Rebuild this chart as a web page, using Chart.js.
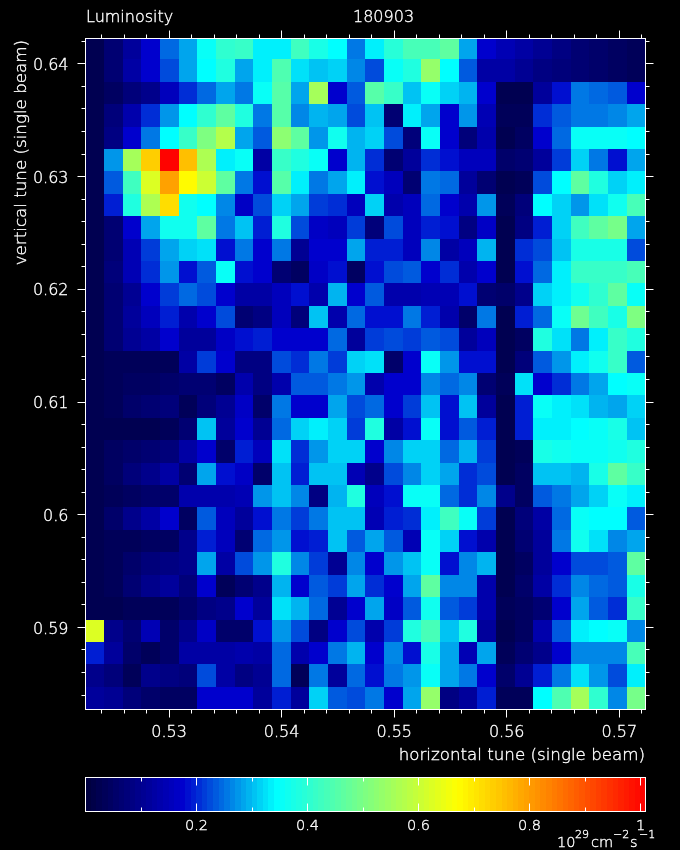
<!DOCTYPE html>
<html>
<head>
<meta charset="utf-8">
<title>Luminosity 180903</title>
<script src="https://cdn.jsdelivr.net/npm/chart.js@4"></script>
<style>
    html, body { margin: 0; padding: 0; background: #000; }
    #wrap { position: relative; width: 680px; height: 850px; background: #000; overflow: hidden; }
    canvas { position: absolute; left: 0; display: block; }
    #mapChart { top: 0; }
    #barChart { top: 770px; }
</style>
</head>
<body>
<div id="wrap">
    <canvas id="mapChart" width="680" height="770"></canvas>
    <canvas id="barChart" width="680" height="80"></canvas>
</div>
<script>
// horizontal tune of each column, vertical tune of each row (top row first)
const xTunes = [0.523400, 0.525059, 0.526717, 0.528376, 0.530035, 0.531694, 0.533352, 0.535011, 0.536670, 0.538329,
    0.539987, 0.541646, 0.543305, 0.544964, 0.546622, 0.548281, 0.549940, 0.551599, 0.553257, 0.554916,
    0.556575, 0.558234, 0.559892, 0.561551, 0.563210, 0.564869, 0.566527, 0.568186, 0.569845, 0.571504];
const yTunes = [0.641376, 0.639388, 0.637400, 0.635412, 0.633424, 0.631436, 0.629448, 0.627460, 0.625472, 0.623484,
    0.621497, 0.619509, 0.617521, 0.615533, 0.613545, 0.611557, 0.609569, 0.607581, 0.605593, 0.603605,
    0.601617, 0.599630, 0.597642, 0.595654, 0.593666, 0.591678, 0.589690, 0.587702, 0.585714, 0.583726];

// luminosity, 10^29 cm-2 s-1, one list per row
const lumi = [
    [.02,.06,.11,.17,.24,.29,.35,.40,.41,.33,.33,.42,.37,.34,.25,.33,.39,.43,.43,.46,.28,.17,.14,.12,.10,.08,.06,.05,.04,.03],
    [.02,.06,.12,.17,.225,.28,.345,.385,.285,.33,.44,.32,.305,.31,.26,.225,.35,.385,.53,.34,.235,.125,.12,.10,.08,.07,.06,.05,.04,.03],
    [.02,.045,.07,.09,.15,.20,.245,.285,.255,.35,.45,.28,.55,.175,.23,.45,.41,.305,.35,.31,.295,.17,.025,.025,.11,.18,.25,.24,.23,.17],
    [.02,.07,.13,.20,.27,.345,.40,.47,.38,.25,.45,.26,.295,.285,.225,.305,.06,.33,.29,.17,.27,.14,.03,.03,.20,.23,.25,.255,.26,.29],
    [.02,.08,.17,.25,.34,.41,.50,.58,.28,.235,.52,.46,.27,.36,.295,.315,.22,.07,.35,.17,.07,.135,.02,.045,.17,.245,.35,.35,.35,.345],
    [.02,.27,.55,.73,1.0,.75,.57,.335,.35,.12,.41,.385,.35,.17,.295,.20,.06,.11,.20,.18,.155,.155,.05,.06,.11,.21,.31,.25,.185,.28],
    [.02,.23,.42,.62,.79,.67,.60,.47,.25,.18,.45,.335,.255,.29,.33,.185,.15,.06,.25,.24,.11,.065,.02,.03,.22,.34,.47,.385,.31,.335],
    [.02,.19,.38,.57,.71,.365,.34,.26,.165,.225,.31,.285,.21,.205,.155,.31,.13,.155,.24,.175,.13,.275,.03,.075,.345,.31,.27,.32,.36,.43],
    [.02,.065,.175,.28,.36,.365,.47,.25,.30,.19,.38,.22,.165,.155,.21,.07,.225,.155,.19,.185,.085,.16,.025,.08,.195,.315,.42,.47,.49,.28],
    [.02,.06,.14,.21,.28,.31,.325,.18,.255,.17,.25,.10,.17,.175,.285,.19,.19,.15,.26,.12,.15,.295,.025,.20,.225,.305,.375,.375,.375,.225],
    [.02,.07,.14,.20,.27,.185,.23,.35,.18,.175,.06,.04,.16,.18,.045,.18,.22,.235,.17,.20,.135,.175,.025,.18,.24,.33,.41,.41,.41,.43],
    [.02,.06,.10,.17,.21,.24,.225,.175,.125,.125,.15,.185,.135,.295,.17,.23,.13,.13,.14,.14,.185,.06,.05,.09,.31,.33,.36,.40,.47,.355],
    [.02,.06,.11,.155,.195,.13,.175,.22,.065,.085,.155,.07,.305,.135,.24,.18,.18,.255,.19,.135,.055,.255,.02,.195,.24,.35,.48,.42,.375,.50],
    [.02,.06,.10,.125,.175,.11,.11,.165,.18,.19,.175,.17,.17,.24,.115,.21,.225,.215,.235,.225,.115,.15,.02,.045,.385,.32,.25,.33,.41,.38],
    [.02,.03,.03,.03,.03,.125,.21,.175,.08,.08,.225,.205,.25,.21,.31,.32,.05,.17,.35,.275,.185,.18,.02,.075,.23,.275,.33,.365,.41,.23],
    [.02,.03,.04,.045,.05,.065,.06,.04,.135,.085,.13,.235,.23,.25,.275,.13,.175,.175,.26,.24,.26,.06,.035,.325,.175,.20,.25,.29,.345,.355],
    [.02,.03,.05,.06,.07,.03,.07,.10,.165,.05,.255,.17,.17,.285,.22,.24,.175,.215,.305,.18,.305,.11,.02,.195,.35,.33,.32,.295,.28,.315],
    [.02,.025,.025,.025,.03,.06,.305,.115,.175,.10,.245,.31,.33,.315,.21,.385,.125,.18,.35,.185,.235,.19,.02,.195,.33,.335,.345,.355,.375,.30],
    [.02,.04,.05,.06,.07,.12,.17,.05,.19,.155,.325,.205,.275,.315,.31,.175,.26,.31,.31,.24,.295,.215,.025,.03,.375,.365,.355,.35,.36,.385],
    [.02,.04,.07,.09,.12,.06,.285,.18,.16,.05,.30,.195,.30,.30,.14,.09,.225,.26,.315,.285,.20,.225,.02,.04,.305,.30,.295,.375,.46,.41],
    [.02,.03,.04,.05,.05,.13,.13,.13,.14,.275,.30,.26,.085,.295,.38,.15,.185,.35,.35,.24,.205,.26,.09,.04,.235,.255,.285,.315,.35,.33],
    [.02,.05,.09,.12,.17,.04,.235,.15,.11,.18,.25,.21,.25,.30,.30,.14,.19,.205,.335,.42,.35,.21,.025,.07,.12,.245,.355,.345,.34,.235],
    [.02,.03,.035,.04,.04,.09,.19,.155,.06,.245,.27,.18,.19,.30,.23,.28,.23,.145,.35,.31,.18,.13,.02,.06,.11,.25,.365,.325,.26,.28],
    [.02,.03,.05,.07,.08,.09,.28,.125,.225,.27,.38,.265,.21,.10,.26,.175,.275,.30,.355,.18,.26,.295,.02,.04,.11,.17,.225,.225,.23,.46],
    [.02,.035,.06,.09,.11,.07,.17,.035,.06,.09,.295,.175,.235,.21,.285,.205,.17,.285,.46,.265,.26,.13,.025,.05,.12,.20,.26,.245,.235,.375],
    [.025,.025,.03,.03,.03,.05,.08,.09,.175,.115,.325,.295,.245,.10,.175,.28,.16,.235,.36,.23,.215,.135,.03,.04,.06,.175,.28,.235,.205,.41],
    [.62,.09,.06,.14,.05,.09,.16,.05,.05,.18,.27,.22,.08,.17,.225,.135,.21,.385,.43,.30,.38,.11,.025,.04,.135,.235,.33,.34,.35,.26],
    [.19,.11,.05,.035,.05,.12,.12,.12,.13,.12,.24,.135,.175,.25,.295,.175,.26,.18,.375,.28,.145,.29,.03,.06,.09,.175,.26,.26,.26,.43],
    [.09,.07,.035,.09,.08,.07,.22,.12,.08,.10,.24,.03,.255,.11,.245,.18,.25,.27,.35,.285,.255,.175,.05,.10,.195,.255,.325,.275,.225,.335],
    [.11,.10,.07,.05,.045,.04,.175,.17,.17,.11,.195,.11,.315,.23,.225,.25,.175,.28,.53,.08,.11,.19,.035,.035,.345,.44,.55,.40,.26,.49]
];

const xTicks = [0.53, 0.54, 0.55, 0.56, 0.57];
const xMinorTicks = [0.524, 0.526, 0.528, 0.532, 0.534, 0.536, 0.538, 0.542, 0.544, 0.546, 0.548,
    0.552, 0.554, 0.556, 0.558, 0.562, 0.564, 0.566, 0.568, 0.572];
const yTicks = [0.64, 0.63, 0.62, 0.61, 0.6, 0.59];
const yMinorTicks = [0.642, 0.638, 0.636, 0.634, 0.632, 0.628, 0.626, 0.624, 0.622, 0.618, 0.616, 0.614, 0.612,
    0.608, 0.606, 0.604, 0.602, 0.598, 0.596, 0.594, 0.592, 0.588, 0.586, 0.584];
const barTicks = [0.2, 0.4, 0.6, 0.8, 1];
const barMinorTicks = [0.1, 0.3, 0.5, 0.7, 0.9];

const X_MIN = 0.52257, X_MAX = 0.57233, Y_MIN = 0.58272, Y_MAX = 0.64225;
const CELL_H = 0.0019879;   // row height in tune units
const BAR_MAX = 1.009;
const LEVEL = 0.01;         // the colour table has bands this wide

const FONT = '"DejaVu Sans", sans-serif';
const WHITE = '#ffffff';
const TEXT_STROKE = 0.35;   // extralight face needs a bit more ink to read as full white

// jet-like table used by the plot
const stops = [
    [0, 0, 0, 60],
    [0.175, 0, 0, 205],
    [0.345, 0, 255, 255],
    [0.67, 255, 255, 0],
    [1.009, 255, 0, 0]
];

function lumiColor(v) {
    const q = Math.min(Math.floor(v / LEVEL) * LEVEL + LEVEL / 2, BAR_MAX);
    for (let i = 1; i < stops.length; i++) {
        if (q <= stops[i][0]) {
            const a = stops[i - 1], b = stops[i];
            const t = (q - a[0]) / (b[0] - a[0]);
            const mix = k => Math.round(a[k] + (b[k] - a[k]) * t);
            return `rgb(${mix(1)},${mix(2)},${mix(3)})`;
        }
    }
    return 'rgb(255,0,0)';
}

// snap bars on whole pixels, the original has no soft cell edges
const snapBars = {
    id: 'snapBars',
    afterDatasetsUpdate(chart) {
        const snap = v => Math.floor(v + 0.3);
        chart.getDatasetMeta(0).data.forEach(el => {
            const l = snap(el.x - el.width / 2), r = snap(el.x + el.width / 2);
            el.x = (l + r) / 2;
            el.width = r - l;
            el.y = snap(el.y);
            el.base = snap(el.base);
            el.height = el.base - el.y;
        });
    }
};

function line(ctx, x1, y1, x2, y2) {
    ctx.beginPath();
    ctx.moveTo(x1, y1);
    ctx.lineTo(x2, y2);
    ctx.stroke();
}

function label(ctx, text, x, y, font) {
    ctx.font = font;
    ctx.fillText(text, x, y);
    ctx.lineWidth = TEXT_STROKE;
    ctx.strokeText(text, x, y);
}

const mapFrame = {
    id: 'mapFrame',
    afterDraw(chart) {
        const { ctx, chartArea: a, scales } = chart;
        const l = Math.floor(a.left) + 0.5, r = Math.floor(a.right) + 0.5;
        const t = Math.floor(a.top) + 0.5, b = Math.floor(a.bottom) + 0.5;
        ctx.save();
        ctx.strokeStyle = WHITE;
        ctx.lineWidth = 1;
        ctx.strokeRect(l, t, r - l, b - t);
        const xMarks = (vals, len) => vals.forEach(v => {
            const p = Math.floor(scales.x.getPixelForValue(v)) + 0.5;
            line(ctx, p, t, p, t - len);
            line(ctx, p, b, p, b + len);
        });
        const yMarks = (vals, len) => vals.forEach(v => {
            const p = Math.floor(scales.y.getPixelForValue(v)) + 0.5;
            line(ctx, l, p, l - len, p);
            line(ctx, r, p, r + len, p);
        });
        xMarks(xTicks, 8);
        xMarks(xMinorTicks, 4);
        yMarks(yTicks, 8);
        yMarks(yMinorTicks, 4);

        ctx.fillStyle = WHITE;
        ctx.textBaseline = 'alphabetic';
        ctx.textAlign = 'left';
        const font = '200 16px ' + FONT, axisFont = '200 16.7px ' + FONT;
        label(ctx, 'Luminosity', 86, 22, font);
        label(ctx, '180903', 353, 22, font);
        ctx.textAlign = 'right';
        label(ctx, 'horizontal tune (single beam)', 645, 760, axisFont);
        ctx.translate(26, 40);
        ctx.rotate(-Math.PI / 2);
        label(ctx, 'vertical tune (single beam)', 0, 0, axisFont);
        ctx.restore();
    }
};

const barFrame = {
    id: 'barFrame',
    afterDraw(chart) {
        const { ctx, chartArea: a, scales } = chart;
        const l = Math.floor(a.left) + 0.5, r = Math.floor(a.right) + 0.5;
        const t = Math.floor(a.top) + 0.5, b = Math.floor(a.bottom) + 0.5;
        ctx.save();
        ctx.strokeStyle = WHITE;
        ctx.lineWidth = 1;
        ctx.strokeRect(l, t, r - l, b - t);
        const marks = (vals, len) => vals.forEach(v => {
            const p = Math.floor(scales.x.getPixelForValue(v)) + 0.5;
            line(ctx, p, t, p, t + len);
            line(ctx, p, b, p, b - len);
        });
        marks(barTicks, 8);
        marks(barMinorTicks, 4);

        // unit with superscripts, baselines are relative to this canvas (top = 770)
        ctx.fillStyle = WHITE;
        ctx.textBaseline = 'alphabetic';
        ctx.textAlign = 'left';
        const big = '200 14.5px ' + FONT, small = '200 11px ' + FONT;
        [['10', 557, 77, big], ['29', 575, 68, small], ['cm', 591, 77, big],
         ['\u22122', 613, 68, small], ['s', 630, 77, big], ['\u22121', 639, 68, small]].forEach(p => {
            label(ctx, p[0], p[1], p[2], p[3]);
        });
        ctx.restore();
    }
};

const cells = [], cellColors = [];
yTunes.forEach((yt, r) => {
    xTunes.forEach((xt, c) => {
        cells.push({ x: xt, y: [yt - CELL_H / 2, yt + CELL_H / 2] });
        cellColors.push(lumiColor(lumi[r][c]));
    });
});

new Chart(document.getElementById('mapChart'), {
    type: 'bar',
    data: {
        datasets: [{
            data: cells,
            backgroundColor: cellColors,
            borderWidth: 0,
            inflateAmount: 0,
            barThickness: 18.667
        }]
    },
    options: {
        responsive: false,
        animation: false,
        devicePixelRatio: 1,
        layout: { padding: { left: 0, right: 34.5, top: 38.5, bottom: 0 } },
        plugins: { legend: { display: false }, tooltip: { enabled: false }, title: { display: false } },
        scales: {
            x: {
                type: 'linear', offset: false, min: X_MIN, max: X_MAX,
                grid: { display: false }, border: { display: false },
                afterBuildTicks: s => { s.ticks = xTicks.map(v => ({ value: v })); },
                afterFit: s => { s.height = 60.5; },
                ticks: {
                    color: WHITE, font: { family: FONT, size: 16, weight: '200' }, padding: 6,
                    textStrokeColor: WHITE, textStrokeWidth: TEXT_STROKE,
                    autoSkip: false, maxRotation: 0, callback: v => String(v)
                }
            },
            y: {
                type: 'linear', min: Y_MIN, max: Y_MAX,
                grid: { display: false }, border: { display: false },
                afterBuildTicks: s => { s.ticks = yTicks.map(v => ({ value: v })); },
                afterFit: s => { s.width = 85.5; },
                ticks: {
                    color: WHITE, font: { family: FONT, size: 16, weight: '200' }, padding: 9, labelOffset: 2,
                    textStrokeColor: WHITE, textStrokeWidth: TEXT_STROKE,
                    autoSkip: false, callback: v => String(v)
                }
            }
        }
    },
    plugins: [snapBars, mapFrame]
});

// colour scale: one bar per band of the table
const bandCenters = [], bandColors = [];
for (let v = LEVEL / 2; v < BAR_MAX; v += LEVEL) {
    bandCenters.push({ x: v, y: [0, 1] });
    bandColors.push(lumiColor(v));
}

new Chart(document.getElementById('barChart'), {
    type: 'bar',
    data: {
        datasets: [{
            data: bandCenters,
            backgroundColor: bandColors,
            borderWidth: 0,
            inflateAmount: 0,
            barThickness: 5.55
        }]
    },
    options: {
        responsive: false,
        animation: false,
        devicePixelRatio: 1,
        layout: { padding: { left: 85.5, right: 34.5, top: 7.5, bottom: 0 } },
        plugins: { legend: { display: false }, tooltip: { enabled: false }, title: { display: false } },
        scales: {
            x: {
                type: 'linear', offset: false, min: 0, max: BAR_MAX,
                grid: { display: false }, border: { display: false },
                afterBuildTicks: s => { s.ticks = barTicks.map(v => ({ value: v })); },
                afterFit: s => { s.height = 38.5; },
                ticks: {
                    color: WHITE, font: { family: FONT, size: 14.5, weight: '200' }, padding: -2,
                    textStrokeColor: WHITE, textStrokeWidth: TEXT_STROKE,
                    autoSkip: false, maxRotation: 0, callback: v => String(v)
                }
            },
            y: { type: 'linear', min: 0, max: 1, display: false }
        }
    },
    plugins: [snapBars, barFrame]
});
</script>
</body>
</html>
